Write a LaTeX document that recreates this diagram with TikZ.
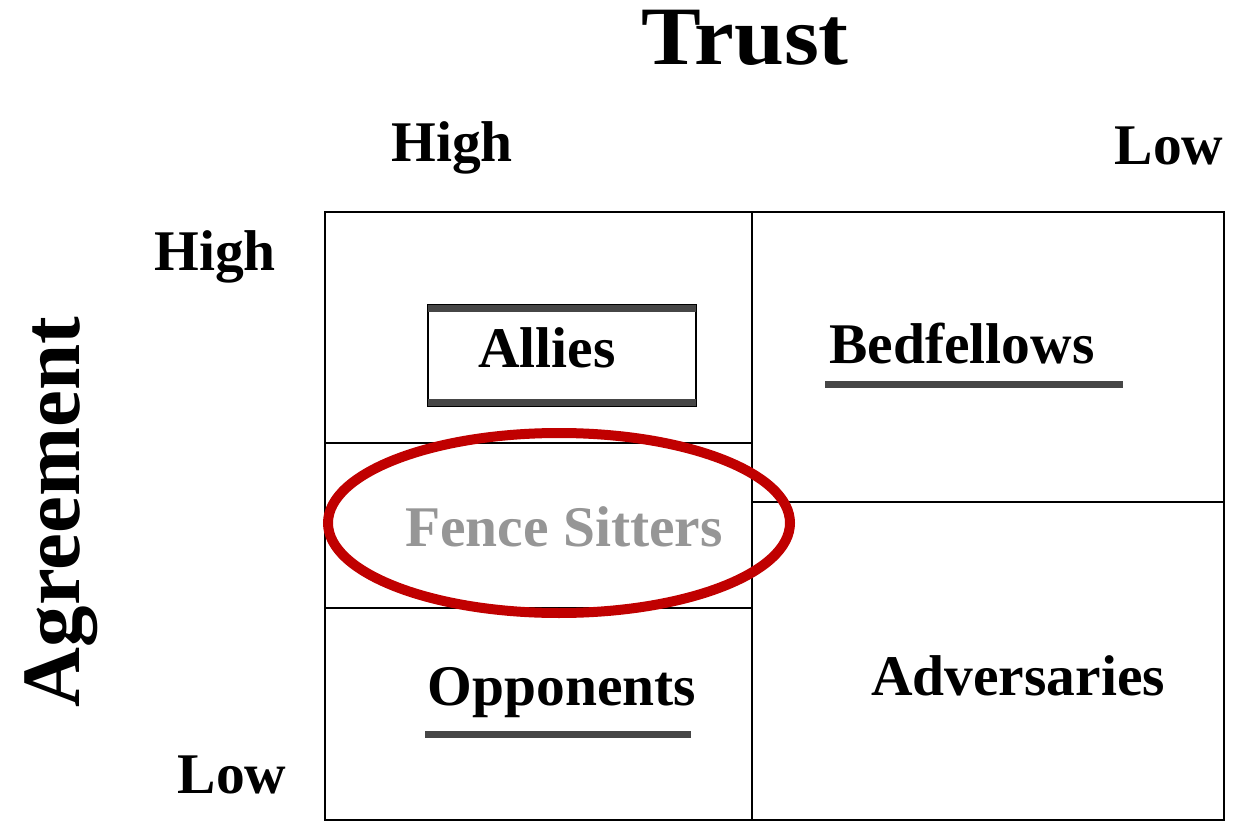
\documentclass[tikz,border=0pt]{standalone}
\usepackage{fontspec}
\setmainfont{Liberation Serif}
\definecolor{ovalred}{RGB}{192,0,0}
\definecolor{fencegray}{RGB}{150,150,150}
\definecolor{bandgray}{RGB}{70,70,70}
\tikzset{
  lbl/.style={inner sep=0pt, anchor=base, font=\bfseries\fontsize{57.5}{60}\selectfont},
  axislbl/.style={inner sep=0pt, anchor=base, font=\bfseries\fontsize{83}{88}\selectfont},
  gridline/.style={line width=1.6pt, black},
  band/.style={line width=7pt, bandgray},
  oval/.style={line width=10pt, ovalred}
}
\begin{document}
\begin{tikzpicture}[x=1pt,y=-1pt]
\useasboundingbox[fill=white] (0,0) rectangle (1235,824);
% grid
\coordinate (tl) at (325,212);
\coordinate (br) at (1224,820);
\coordinate (vt) at (752,212);
\coordinate (vb) at (752,820);
\coordinate (h1l) at (325,443);
\coordinate (h1r) at (752,443);
\coordinate (h2l) at (325,608);
\coordinate (h2r) at (752,608);
\coordinate (h3l) at (752,502);
\coordinate (h3r) at (1224,502);
\draw[gridline] (tl) rectangle (br);
\draw[gridline] (vt) -- (vb);
\draw[gridline] (h1l) -- (h1r);
\draw[gridline] (h2l) -- (h2r);
\draw[gridline] (h3l) -- (h3r);
% axis labels
\node[axislbl, xscale=1.08] (trust) at (745,65) {Trust};
\node[axislbl, rotate=90] (agree) at (79,512) {Agreement};
\node[lbl] (thigh) at (452,162) {High};
\node[lbl] (tlow) at (1169,165) {Low};
\node[lbl] (lhigh) at (215,270) {High};
\node[lbl] (llow) at (232,793) {Low};
% Allies box
\coordinate (ab1) at (428,305);
\coordinate (ab2) at (696,406);
\draw[line width=1.6pt] (ab1) rectangle (ab2);
\draw[band] (428,308) -- (696,308);
\draw[band] (428,402) -- (696,402);
\node[lbl] (allies) at (547,367) {Allies};
% Bedfellows
\node[lbl] (bed) at (962,363) {Bedfellows};
\coordinate (bu1) at (825,384);
\coordinate (bu2) at (1123,384);
\draw[band] (bu1) -- (bu2);
% Fence sitters
\node[lbl, text=fencegray] (fence) at (564,546) {Fence Sitters};
% Opponents
\node[lbl] (opp) at (562,705) {Opponents};
\coordinate (ou1) at (425,734);
\coordinate (ou2) at (691,734);
\draw[band] (ou1) -- (ou2);
% Adversaries
\node[lbl] (adv) at (1018,695) {Adversaries};
% red oval
\coordinate (ovc) at (559,523);
\draw[oval] (ovc) ellipse [x radius=231, y radius=90];
\end{tikzpicture}
\end{document}
